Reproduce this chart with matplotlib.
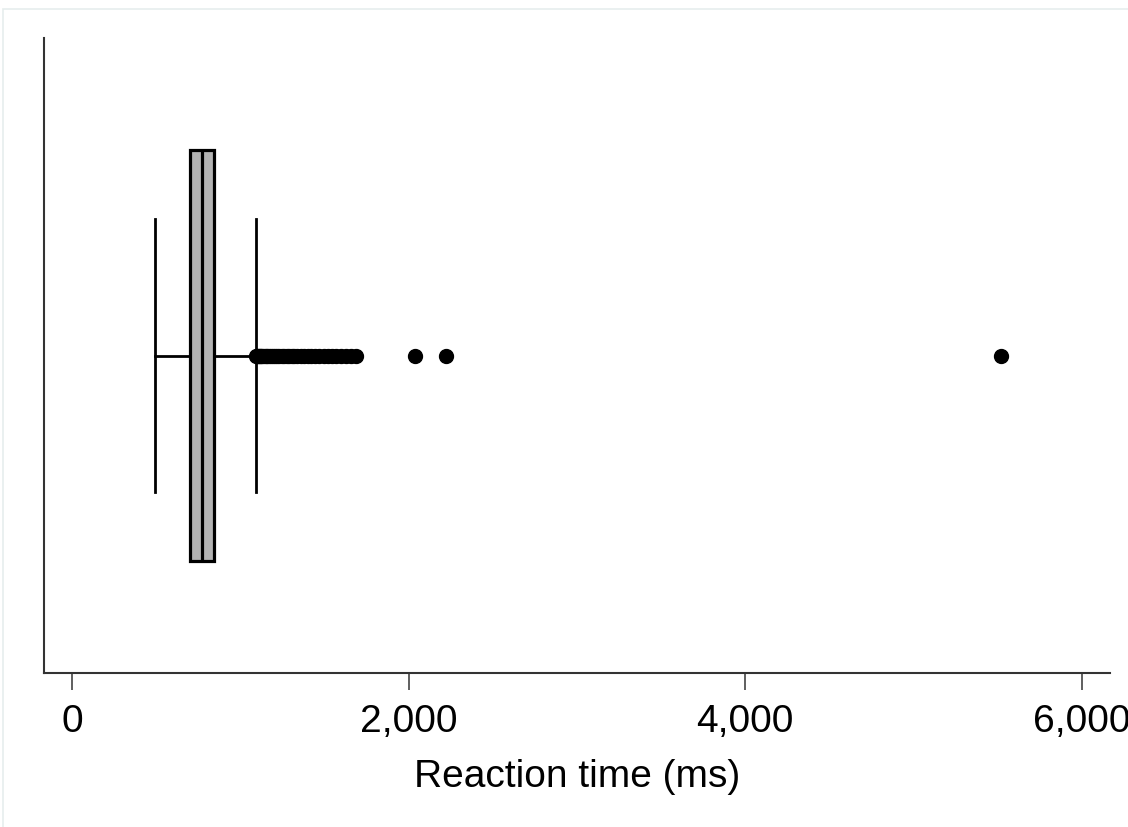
import matplotlib
matplotlib.use('Agg')
import matplotlib.pyplot as plt
from matplotlib.patches import Rectangle

# Box plot summary of reaction times (ms)
q1 = 700
median = 772
q3 = 844
whisker_low = 493
whisker_high = 1093
outliers = [1095, 1100, 1105, 1110, 1118, 1125, 1132, 1140, 1150, 1160,
            1170, 1182, 1195, 1205, 1218, 1230, 1245, 1260, 1275, 1290,
            1305, 1320, 1340, 1360, 1380, 1400, 1420, 1445, 1470, 1495,
            1520, 1545, 1570, 1600, 1630, 1660, 1690, 2040, 2225, 5520]
x_ticks = [0, 2000, 4000, 6000]
x_label = 'Reaction time (ms)'

plt.rcParams['font.family'] = ['Liberation Sans', 'DejaVu Sans']

fig = plt.figure(figsize=(11.28, 8.27), dpi=100)
ax = fig.add_axes([44 / 1128, 1 - 673 / 827, (1110 - 44) / 1128, (673 - 38) / 827])

# faint frame of the original screenshot (only top and left edges visible)
fig.add_artist(Rectangle((3 / 1128, -0.2), 1.2, 1.2 - 9 / 827, transform=fig.transFigure,
                         fill=False, edgecolor='#e6eded', linewidth=1.2))

stats = [{
    'med': median, 'q1': q1, 'q3': q3,
    'whislo': whisker_low, 'whishi': whisker_high,
    'fliers': outliers,
}]
ax.bxp(stats, positions=[0.5], widths=0.646, capwidths=0.431,
       orientation='horizontal', patch_artist=True, showfliers=True,
       boxprops=dict(facecolor='#b3b3b3', edgecolor='black', linewidth=2.3),
       medianprops=dict(color='black', linewidth=2.3),
       whiskerprops=dict(color='black', linewidth=2.0),
       capprops=dict(color='black', linewidth=2.0),
       flierprops=dict(marker='o', markerfacecolor='black', markeredgecolor='black',
                       markersize=10, linestyle='none'))

ax.set_ylim(0, 1)
ax.set_xlim(-166, 6167)
ax.set_xticks(x_ticks)
ax.set_xticklabels([f'{t:,}' for t in x_ticks])
ax.set_yticks([])
ax.tick_params(axis='x', length=12, width=1.2, color='#444444', labelsize=28, pad=10)
ax.set_xlabel(x_label, fontsize=28, labelpad=14)

for side in ['top', 'right']:
    ax.spines[side].set_visible(False)
for side in ['left', 'bottom']:
    ax.spines[side].set_color('#333333')
    ax.spines[side].set_linewidth(1.5)

fig.savefig('out.png', dpi=100)
plt.close(fig)
